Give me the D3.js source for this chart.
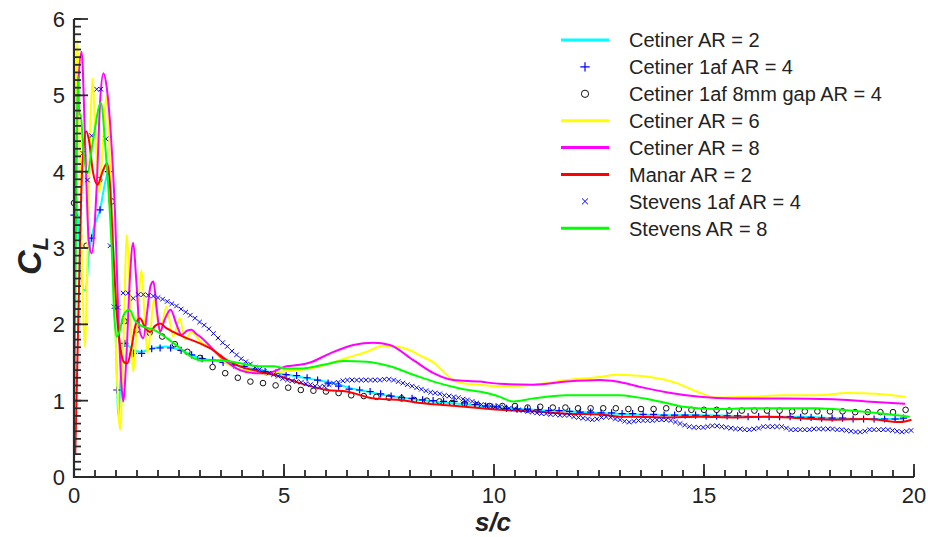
<!DOCTYPE html>
<html><head><meta charset="utf-8">
<script src="https://cdn.jsdelivr.net/npm/d3@7"></script>
<style>body{margin:0;background:#fff}svg{display:block}</style>
</head><body><svg id="c" width="928" height="537"></svg>
<script>
// ---- data (s/c, CL) ----
const xTicks = [0, 5, 10, 15, 20];
const yTicks = [0, 1, 2, 3, 4, 5, 6];

const cetinerAR2 = [[0,3.3],[0.05,3.68],[0.1,3.3],[0.16,2.8],[0.22,2.45],[0.28,2.45],[0.35,2.9],[0.42,3.15],[0.52,3.35],[0.62,3.5],[0.72,3.8],[0.82,4.0],[0.88,3.7],[0.94,2.9],[1.0,1.7],[1.06,0.79],[1.11,1.3],[1.17,1.77],[1.3,1.72],[1.41,1.66],[1.6,1.64],[1.89,1.69],[2.21,1.71],[2.52,1.66],[3.0,1.56],[3.48,1.51],[3.95,1.45],[4.43,1.4],[5.06,1.34],[5.38,1.31],[5.78,1.27],[6.17,1.23],[6.69,1.15],[6.97,1.12],[7.52,1.06],[8.08,1.02],[8.56,0.99],[9.35,0.95],[10.14,0.91],[10.94,0.88],[11.73,0.86],[12.52,0.84],[13.32,0.82],[14.1,0.81],[14.9,0.81],[15.7,0.8],[16.49,0.79],[17.29,0.79],[18.08,0.77],[18.87,0.76],[19.75,0.76]];

const cetiner1afAR4 = [[0,3.43],[0.42,3.13],[0.62,3.5],[0.82,4.0],[1.02,1.14],[1.21,1.75],[1.41,1.62],[1.61,1.62],[1.85,1.68],[2.05,1.69],[2.3,1.69],[2.55,1.66],[2.8,1.6],[3.05,1.55],[3.3,1.53],[3.55,1.5],[3.8,1.47],[4.05,1.45],[4.3,1.41],[4.55,1.38],[4.8,1.36],[5.05,1.34],[5.3,1.33],[5.55,1.3],[5.8,1.27],[6.05,1.23],[6.3,1.19],[6.55,1.15],[6.8,1.14],[7.05,1.12],[7.3,1.09],[7.55,1.06],[7.8,1.04],[8.05,1.03],[8.3,1.01],[8.55,1.0],[8.8,0.99],[9.05,0.99],[9.3,0.97],[9.55,0.95],[9.8,0.93],[10.05,0.92],[10.3,0.9],[10.55,0.89],[10.8,0.89],[11.05,0.88],[11.3,0.87],[11.55,0.87],[11.8,0.86],[12.05,0.85],[12.3,0.85],[12.55,0.84],[12.8,0.84],[13.05,0.83],[13.3,0.83],[13.55,0.82],[13.8,0.82],[14.05,0.81],[14.3,0.81],[14.55,0.81],[14.8,0.81],[15.05,0.8],[15.3,0.8],[15.55,0.8],[15.8,0.8],[16.05,0.79],[16.3,0.79],[16.55,0.79],[16.8,0.79],[17.05,0.79],[17.3,0.78],[17.55,0.78],[17.8,0.77],[18.05,0.77],[18.3,0.77],[18.55,0.76],[18.8,0.76],[19.05,0.76],[19.3,0.76],[19.55,0.76],[19.75,0.77]];

const cetinerGapAR4 = [[0,3.59],[0.3,3.03],[0.6,3.89],[0.9,3.61],[1.2,2.04],[1.5,1.93],[1.8,1.89],[2.1,1.84],[2.4,1.74],[2.7,1.64],[3.0,1.56],[3.3,1.44],[3.6,1.36],[3.9,1.3],[4.2,1.25],[4.5,1.23],[4.8,1.2],[5.1,1.17],[5.4,1.14],[5.7,1.13],[6.0,1.12],[6.3,1.1],[6.6,1.07],[6.9,1.06],[7.2,1.05],[7.5,1.04],[7.8,1.03],[8.1,1.01],[8.4,1.0],[8.7,0.99],[9.0,0.97],[9.3,0.96],[9.6,0.94],[9.9,0.93],[10.2,0.93],[10.5,0.93],[10.8,0.91],[11.1,0.92],[11.4,0.91],[11.7,0.91],[12.0,0.9],[12.3,0.9],[12.6,0.9],[12.9,0.9],[13.2,0.89],[13.5,0.89],[13.8,0.89],[14.1,0.9],[14.4,0.89],[14.7,0.88],[15.0,0.88],[15.3,0.88],[15.6,0.87],[15.9,0.87],[16.2,0.87],[16.5,0.87],[16.8,0.87],[17.1,0.86],[17.4,0.86],[17.7,0.86],[18.0,0.86],[18.3,0.86],[18.6,0.85],[18.9,0.85],[19.2,0.85],[19.5,0.85],[19.8,0.88]];

const cetinerAR6 = [[0.01,3.2],[0.04,4.8],[0.08,5.73],[0.13,4.5],[0.19,2.8],[0.26,1.71],[0.33,3.2],[0.39,4.6],[0.44,5.22],[0.5,4.6],[0.6,3.72],[0.68,4.3],[0.78,5.0],[0.85,4.2],[0.95,2.5],[1.03,1.2],[1.1,0.62],[1.17,1.6],[1.26,3.17],[1.33,2.4],[1.41,1.38],[1.5,2.0],[1.61,2.71],[1.68,2.1],[1.75,1.62],[1.82,1.9],[1.9,2.32],[2.05,1.9],[2.2,2.23],[2.36,1.84],[2.52,2.08],[2.64,1.8],[2.8,1.9],[3.0,1.78],[3.32,1.66],[3.6,1.5],[3.9,1.42],[4.27,1.38],[4.59,1.35],[4.9,1.38],[5.38,1.4],[5.86,1.45],[6.49,1.56],[6.97,1.64],[7.36,1.72],[7.68,1.71],[8.0,1.66],[8.28,1.58],[8.56,1.5],[8.8,1.38],[9.03,1.27],[9.35,1.22],[9.6,1.21],[10.14,1.19],[10.94,1.21],[11.73,1.27],[12.52,1.31],[12.92,1.34],[13.3,1.33],[13.71,1.31],[14.35,1.23],[14.83,1.12],[15.3,1.04],[16.1,1.05],[16.89,1.07],[17.68,1.07],[18.4,1.1],[19.1,1.09],[19.79,1.05]];

const cetinerAR8 = [[0.02,3.0],[0.1,5.1],[0.18,5.57],[0.27,4.3],[0.35,3.1],[0.42,2.93],[0.54,3.8],[0.62,4.9],[0.7,5.29],[0.78,5.1],[0.9,4.29],[0.98,3.41],[1.05,2.2],[1.12,1.3],[1.17,0.99],[1.25,1.6],[1.33,2.6],[1.41,3.07],[1.48,2.6],[1.57,1.9],[1.65,1.82],[1.75,2.2],[1.82,2.5],[1.89,2.56],[1.97,2.2],[2.05,1.9],[2.15,2.05],[2.3,2.19],[2.44,2.0],[2.56,1.86],[2.7,1.92],[2.8,1.93],[2.9,1.88],[3.0,1.84],[3.48,1.58],[3.95,1.4],[4.3,1.36],[4.59,1.36],[5.06,1.45],[5.38,1.47],[5.62,1.5],[6.1,1.62],[6.65,1.73],[7.13,1.76],[7.52,1.73],[8.08,1.53],[8.56,1.36],[9.03,1.27],[9.67,1.25],[10.14,1.22],[10.94,1.21],[11.73,1.25],[12.52,1.27],[12.92,1.25],[13.48,1.18],[14.1,1.11],[14.9,1.05],[15.7,1.03],[16.89,1.03],[18.08,1.02],[18.87,0.99],[19.79,0.96]];

const manarAR2 = [[0.03,0.3],[0.08,1.5],[0.14,3.0],[0.2,4.1],[0.29,4.53],[0.36,4.4],[0.45,4.0],[0.56,3.83],[0.68,4.0],[0.79,4.11],[0.86,3.8],[0.93,3.0],[1.0,2.3],[1.1,1.7],[1.2,1.5],[1.27,1.49],[1.37,1.7],[1.47,2.0],[1.57,2.08],[1.7,1.95],[1.81,1.9],[1.93,1.98],[2.05,2.01],[2.2,1.95],[2.36,1.9],[2.68,1.82],[3.0,1.75],[3.32,1.66],[3.64,1.53],[3.95,1.45],[4.43,1.38],[4.9,1.32],[5.38,1.23],[6.02,1.14],[6.49,1.12],[7.13,1.03],[7.76,1.01],[8.24,0.97],[8.87,0.94],[9.5,0.91],[10.14,0.88],[10.94,0.86],[11.73,0.83],[12.52,0.82],[13.0,0.79],[13.32,0.79],[14.1,0.78],[14.9,0.79],[15.7,0.78],[16.49,0.79],[17.29,0.77],[18.08,0.75],[18.87,0.76],[19.67,0.72],[19.94,0.75]];

const stevens1afAR4 = [[0.21,4.24],[0.32,3.89],[0.42,4.47],[0.54,5.08],[0.64,5.08],[0.76,4.43],[0.86,3.03],[0.95,2.23],[1.05,2.22],[1.17,2.41],[1.29,2.41],[1.41,2.34],[1.53,2.39],[1.65,2.39],[1.77,2.38],[1.89,2.37],[2.0,2.35],[2.11,2.33],[2.22,2.3],[2.33,2.27],[2.44,2.24],[2.55,2.2],[2.66,2.16],[2.77,2.12],[2.88,2.08],[2.99,2.03],[3.1,1.99],[3.21,1.94],[3.32,1.88],[3.43,1.82],[3.54,1.76],[3.65,1.71],[3.76,1.65],[3.87,1.6],[3.98,1.55],[4.09,1.51],[4.2,1.48],[4.31,1.44],[4.42,1.41],[4.53,1.38],[4.64,1.36],[4.75,1.34],[4.86,1.32],[4.97,1.29],[5.08,1.27],[5.19,1.26],[5.3,1.25],[5.41,1.24],[5.52,1.22],[5.63,1.21],[5.74,1.19],[5.85,1.18],[5.96,1.19],[6.07,1.21],[6.18,1.23],[6.29,1.24],[6.4,1.26],[6.51,1.27],[6.62,1.27],[6.73,1.27],[6.84,1.27],[6.95,1.27],[7.06,1.27],[7.17,1.27],[7.28,1.27],[7.39,1.28],[7.5,1.28],[7.61,1.27],[7.72,1.25],[7.83,1.23],[7.94,1.21],[8.05,1.19],[8.16,1.17],[8.27,1.15],[8.38,1.13],[8.49,1.11],[8.6,1.1],[8.71,1.09],[8.82,1.07],[8.93,1.06],[9.04,1.05],[9.15,1.04],[9.26,1.02],[9.37,1.01],[9.48,0.99],[9.59,0.97],[9.7,0.95],[9.81,0.94],[9.92,0.93],[10.03,0.92],[10.14,0.92],[10.25,0.91],[10.36,0.9],[10.47,0.89],[10.58,0.88],[10.69,0.87],[10.8,0.86],[10.91,0.85],[11.02,0.84],[11.13,0.83],[11.24,0.83],[11.35,0.82],[11.46,0.82],[11.57,0.81],[11.68,0.81],[11.79,0.81],[11.9,0.79],[12.01,0.78],[12.12,0.77],[12.23,0.76],[12.34,0.75],[12.45,0.76],[12.56,0.78],[12.67,0.79],[12.78,0.78],[12.89,0.76],[13.0,0.75],[13.11,0.73],[13.22,0.72],[13.33,0.73],[13.44,0.74],[13.55,0.74],[13.66,0.74],[13.77,0.74],[13.88,0.75],[13.99,0.75],[14.1,0.75],[14.21,0.74],[14.32,0.72],[14.43,0.7],[14.54,0.68],[14.65,0.66],[14.76,0.65],[14.87,0.65],[14.98,0.65],[15.09,0.66],[15.2,0.67],[15.31,0.67],[15.42,0.66],[15.53,0.65],[15.64,0.64],[15.75,0.63],[15.86,0.63],[15.97,0.62],[16.08,0.62],[16.19,0.63],[16.3,0.64],[16.41,0.66],[16.52,0.66],[16.63,0.66],[16.74,0.66],[16.85,0.66],[16.96,0.64],[17.07,0.62],[17.18,0.62],[17.29,0.62],[17.4,0.62],[17.51,0.62],[17.62,0.63],[17.73,0.63],[17.84,0.63],[17.95,0.63],[18.06,0.63],[18.17,0.62],[18.28,0.62],[18.39,0.61],[18.5,0.6],[18.61,0.59],[18.72,0.59],[18.83,0.6],[18.94,0.62],[19.05,0.62],[19.16,0.62],[19.27,0.62],[19.38,0.62],[19.49,0.61],[19.6,0.6],[19.71,0.59],[19.82,0.6],[19.93,0.61]];

const stevensAR8 = [[0,0.2],[0.02,1.5],[0.05,3.5],[0.09,5.25],[0.13,4.75],[0.16,4.75],[0.22,4.3],[0.32,3.98],[0.45,4.4],[0.64,4.9],[0.75,4.3],[0.86,3.41],[0.9,2.97],[0.96,2.1],[1.02,1.84],[1.08,1.9],[1.18,2.12],[1.32,2.19],[1.45,2.05],[1.57,1.99],[1.89,1.93],[2.21,1.82],[2.52,1.69],[2.84,1.56],[3.0,1.53],[3.48,1.53],[3.95,1.49],[4.43,1.45],[4.75,1.45],[5.06,1.42],[5.38,1.42],[5.94,1.47],[6.41,1.52],[6.97,1.51],[7.52,1.45],[8.08,1.34],[8.56,1.25],[9.19,1.16],[9.83,1.1],[10.14,1.05],[10.46,0.99],[10.94,1.03],[11.73,1.07],[12.52,1.07],[13.0,1.07],[13.32,1.05],[14.1,0.97],[14.51,0.92],[15.3,0.89],[16.1,0.9],[16.89,0.9],[17.68,0.9],[18.48,0.87],[19.27,0.83],[19.9,0.79]];

const legendLabels = ["Cetiner AR = 2","Cetiner 1af AR = 4","Cetiner 1af 8mm gap AR = 4","Cetiner AR = 6","Cetiner AR = 8","Manar AR = 2","Stevens 1af AR = 4","Stevens AR = 8"];

// ---- drawing ----
const svg = d3.select("#c");
const m = {l:74, r:914, t:19, b:477};
const x = d3.scaleLinear().domain([0,20]).range([m.l, m.r]);
const y = d3.scaleLinear().domain([0,6]).range([m.b, m.t]);
const axisColor = "#2a2a2a";
const font = "'Liberation Sans', Arial, sans-serif";

const series = [
  {name:legendLabels[0], data:cetinerAR2, type:"line", color:"#00ffff"},
  {name:legendLabels[1], data:cetiner1afAR4, type:"plus", color:"#0000ff"},
  {name:legendLabels[2], data:cetinerGapAR4, type:"circle", color:"#111"},
  {name:legendLabels[3], data:cetinerAR6, type:"line", color:"#ffff00"},
  {name:legendLabels[4], data:cetinerAR8, type:"line", color:"#ff00ff"},
  {name:legendLabels[5], data:manarAR2, type:"line", color:"#ff0000"},
  {name:legendLabels[6], data:stevens1afAR4, type:"cross", color:"#0000ff"},
  {name:legendLabels[7], data:stevensAR8, type:"line", color:"#00ff00"}
];

const line = d3.line().x(d=>x(d[0])).y(d=>y(d[1])).curve(d3.curveMonotoneX);
const plot = svg.append("g");

function drawMarker(g, type, color, cx, cy, k) {
  k = k || 1;
  if (type === "plus") {
    const s = 3.6*k;
    g.append("path").attr("d", `M${cx-s},${cy}H${cx+s}M${cx},${cy-s}V${cy+s}`)
      .attr("stroke", color).attr("stroke-width", 1.2).attr("fill","none");
  } else if (type === "cross") {
    const s = 2.3*k;
    g.append("path").attr("d", `M${cx-s},${cy-s}L${cx+s},${cy+s}M${cx-s},${cy+s}L${cx+s},${cy-s}`)
      .attr("stroke", color).attr("stroke-width", 1).attr("fill","none");
  } else if (type === "circle") {
    g.append("circle").attr("cx",cx).attr("cy",cy).attr("r",2.8*k)
      .attr("stroke", color).attr("stroke-width", 1).attr("fill","none");
  }
}

series.forEach(s => {
  if (s.type === "line") {
    plot.append("path").datum(s.data).attr("d", line)
      .attr("fill","none").attr("stroke", s.color).attr("stroke-width", 2);
  } else {
    const g = plot.append("g");
    s.data.forEach(d => drawMarker(g, s.type, s.color, x(d[0]), y(d[1])));
  }
});

// axes: inward ticks
const ax = svg.append("g");
const minorX = d3.range(0, 20.001, 0.5);
const minorY = d3.range(0, 6.001, 0.1);
ax.selectAll(".mx").data(minorX).join("line")
  .attr("x1", d=>x(d)).attr("x2", d=>x(d)).attr("y1", m.b).attr("y2", m.b-7)
  .attr("stroke", axisColor).attr("stroke-width", 1.8);
ax.selectAll(".Mx").data(xTicks).join("line")
  .attr("x1", d=>x(d)).attr("x2", d=>x(d)).attr("y1", m.b).attr("y2", m.b-13)
  .attr("stroke", axisColor).attr("stroke-width", 1.8);
ax.selectAll(".my").data(minorY).join("line")
  .attr("y1", d=>y(d)).attr("y2", d=>y(d)).attr("x1", m.l).attr("x2", m.l+7)
  .attr("stroke", axisColor).attr("stroke-width", 1.8);
ax.selectAll(".My").data(yTicks).join("line")
  .attr("y1", d=>y(d)).attr("y2", d=>y(d)).attr("x1", m.l).attr("x2", m.l+14)
  .attr("stroke", axisColor).attr("stroke-width", 1.8);
ax.append("path").attr("d", `M${m.l},${m.t}V${m.b}H${m.r}`)
  .attr("fill","none").attr("stroke", axisColor).attr("stroke-width", 2.2);

ax.selectAll(".xl").data(xTicks).join("text")
  .attr("x", d=>x(d)).attr("y", m.b+26).attr("text-anchor","middle")
  .attr("font-family", font).attr("font-size", 22).attr("fill","#222").text(d=>d);
ax.selectAll(".yl").data(yTicks).join("text")
  .attr("x", m.l-9).attr("y", d=>y(d)).attr("dy","0.36em").attr("text-anchor","end")
  .attr("font-family", font).attr("font-size", 22).attr("fill","#222").text(d=>d);

svg.append("text").attr("x", 493).attr("y", 531).attr("text-anchor","middle")
  .attr("font-family", font).attr("font-size", 26).attr("font-weight","bold")
  .attr("font-style","italic").attr("fill","#222").text("s/c");

const yt = svg.append("text").attr("transform","translate(41,256) rotate(-90)")
  .attr("text-anchor","middle").attr("font-family", font).attr("font-weight","bold")
  .attr("font-style","italic").attr("fill","#222");
yt.append("tspan").attr("font-size", 34).text("C");
yt.append("tspan").attr("font-size", 22).attr("dy", 7).text("L");

// legend
const lg = svg.append("g");
series.forEach((s, i) => {
  const cy = 40 + i*26.9;
  if (s.type === "line") {
    lg.append("line").attr("x1",561).attr("x2",609).attr("y1",cy).attr("y2",cy)
      .attr("stroke", s.color).attr("stroke-width", 3);
  } else {
    drawMarker(lg, s.type, s.color, 585, cy, 1.3);
  }
  lg.append("text").attr("x", 629).attr("y", cy).attr("dy","0.36em")
    .attr("font-family", font).attr("font-size", 20).attr("fill","#222").text(s.name);
});
</script></body></html>
